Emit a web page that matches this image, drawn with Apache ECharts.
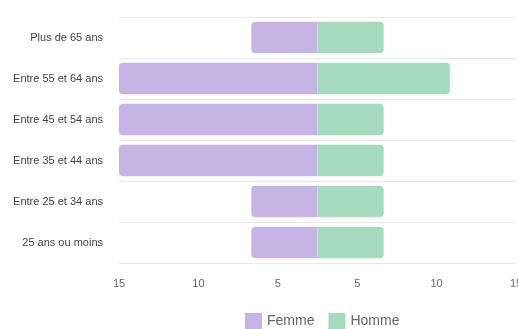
<!DOCTYPE html>
<html>
<head>
<meta charset="utf-8">
<script src="https://cdn.jsdelivr.net/npm/echarts@6/dist/echarts.min.js"></script>
<style>
html,body{margin:0;padding:0;background:#fff;}
#chart{width:518px;height:329px;}
</style>
</head>
<body>
<div id="chart"></div>
<script>
const categories = ['Plus de 65 ans', 'Entre 55 et 64 ans', 'Entre 45 et 54 ans', 'Entre 35 et 44 ans', 'Entre 25 et 34 ans', '25 ans ou moins'];
const femme = [5, 15, 15, 15, 5, 5];
const homme = [5, 10, 5, 5, 5, 5];
const tickLabels = ['15', '10', '5', '5', '10', '15'];

const chart = echarts.init(document.getElementById('chart'), null, {renderer: 'canvas'});
chart.setOption({
  animation: false,
  backgroundColor: '#ffffff',
  grid: {left: 119, right: 2, top: 17, bottom: 66, containLabel: false, outerBoundsMode: 'none'},
  legend: {
    top: 308, left: 240,
    itemWidth: 17, itemHeight: 16, itemGap: 14,
    icon: 'rect',
    textStyle: {color: '#666', fontSize: 14, fontFamily: 'Liberation Sans'},
    data: ['Femme', 'Homme']
  },
  xAxis: [
    {type: 'value', min: -15, max: 15, axisLabel: {show: false}, axisLine: {show: false}, axisTick: {show: false}, splitLine: {show: false}},
    {type: 'category', data: tickLabels, boundaryGap: false, position: 'bottom',
     axisLine: {show: false}, axisTick: {show: false}, splitLine: {show: false},
     axisLabel: {color: '#666', fontSize: 11, fontFamily: 'Liberation Sans', margin: 15, interval: 0}}
  ],
  yAxis: {
    type: 'category', data: categories, inverse: true,
    axisLine: {show: false}, axisTick: {show: false},
    splitLine: {show: true, lineStyle: {color: '#e8e8e8', width: 1}},
    axisLabel: {color: '#444', fontSize: 11, fontFamily: 'Liberation Sans', margin: 16}
  },
  series: [
    {name: 'Femme', type: 'bar', stack: 'total', xAxisIndex: 0, barCategoryGap: '23%',
     data: femme.map(v => -v), itemStyle: {color: '#c6b4e4', borderRadius: [4, 0, 0, 4]}},
    {name: 'Homme', type: 'bar', stack: 'total', xAxisIndex: 0, barCategoryGap: '23%',
     data: homme, itemStyle: {color: '#a7dbc0', borderRadius: [0, 4, 4, 0]}}
  ]
});
</script>
</body>
</html>
